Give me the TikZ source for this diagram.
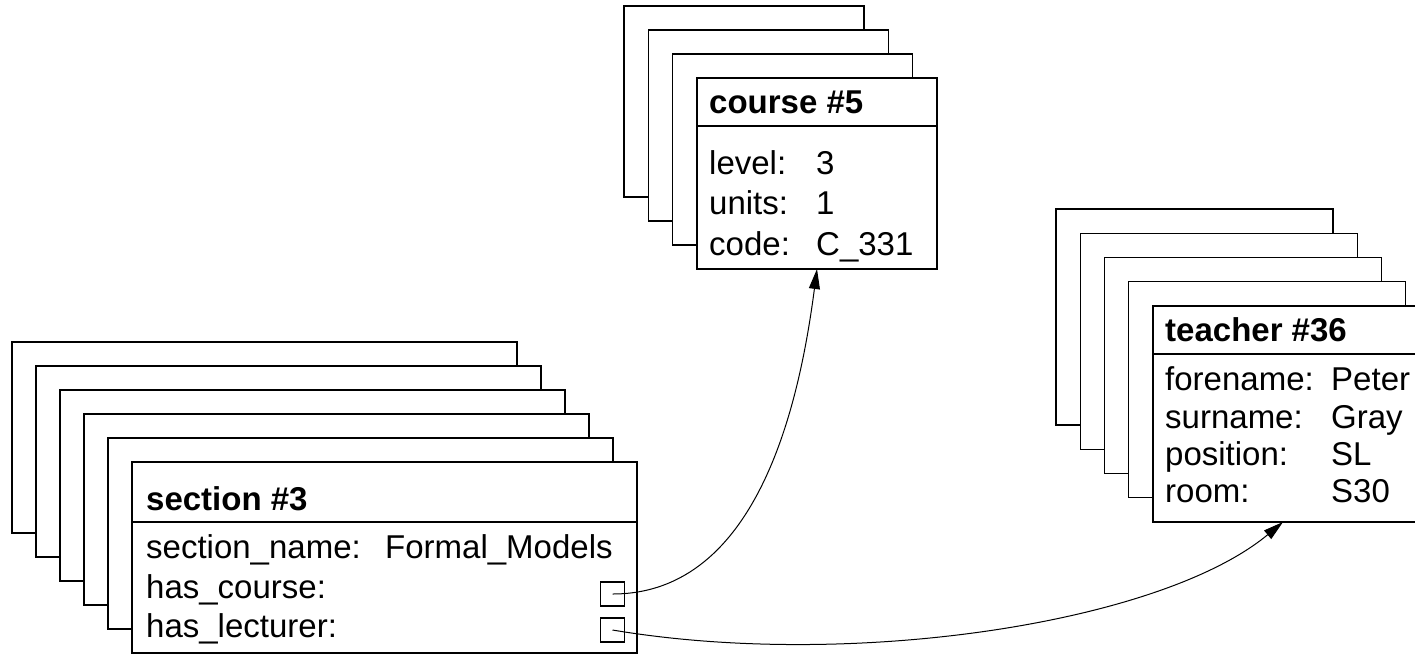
\documentclass[tikz,border=0pt]{standalone}
\usepackage{fontspec}
\setmainfont{Liberation Sans}
\usetikzlibrary{arrows.meta}
\begin{document}
\begin{tikzpicture}[x=1pt,y=-1pt,
  sheet/.style={draw=black, fill=white, line width=1.2pt},
  front/.style={sheet, anchor=north west, inner sep=0pt, outer sep=0pt},
  divider/.style={draw=black, line width=1.2pt},
  lbl/.style={anchor=base west, inner sep=0pt, font=\fontsize{33}{40}\selectfont},
  ttl/.style={anchor=base west, inner sep=0pt, font=\fontsize{33}{40}\selectfont\bfseries},
  ptr/.style={draw=black, line width=1.1pt, minimum size=24pt, inner sep=0pt},
  link/.style={draw=black, line width=1pt, -{Triangle[length=20pt,width=11pt]}}]
\clip (0,0) rectangle (1415,654);
\fill[white] (0,0) rectangle (1415,654);

% ---------- course stack ----------
\foreach \i in {0,1,2}
  \draw[sheet] ({624+24.33*\i},{6+24*\i}) rectangle +(240,191);
\node[front, minimum width=240pt, minimum height=191pt] (course) at (697,78) {};
\draw[divider] (course.west |- 0,126) -- (course.east |- 0,126);
\node[ttl] (ctitle) at (709,113) {course \#5};
\node[lbl] (cl1) at (709,174) {level:};
\node[lbl] (cv1) at (816,174) {3};
\node[lbl] (cl2) at (709,214) {units:};
\node[lbl] (cv2) at (816,214) {1};
\node[lbl] (cl3) at (709,255) {code:};
\node[lbl] (cv3) at (816,255) {C\_331};

% ---------- teacher stack ----------
\foreach \i in {0,1,2,3}
  \draw[sheet] ({1056+24.25*\i},{209+24.25*\i}) rectangle +(277,216);
\node[front, minimum width=277pt, minimum height=216pt] (teacher) at (1153,306) {};
\draw[divider] (teacher.west |- 0,354) -- (teacher.east |- 0,354);
\node[ttl] (ttitle) at (1165,341) {teacher \#36};
\node[lbl] (tl1) at (1165,390) {forename:};
\node[lbl] (tv1) at (1331,390) {Peter};
\node[lbl] (tl2) at (1165,428) {surname:};
\node[lbl] (tv2) at (1331,428) {Gray};
\node[lbl] (tl3) at (1165,465) {position:};
\node[lbl] (tv3) at (1331,465) {SL};
\node[lbl] (tl4) at (1165,502) {room:};
\node[lbl] (tv4) at (1331,502) {S30};

% ---------- section stack ----------
\foreach \i in {0,1,2,3,4}
  \draw[sheet] ({12+24*\i},{342+24*\i}) rectangle +(505,191);
\node[front, minimum width=505pt, minimum height=191pt] (section) at (132,462) {};
\draw[divider] (section.west |- 0,522) -- (section.east |- 0,522);
\node[ttl] (stitle) at (146,510) {section \#3};
\node[lbl] (sl1) at (146,558) {section\_name:};
\node[lbl] (sv1) at (385,558) {Formal\_Models};
\node[lbl] (sl2) at (146,598) {has\_course:};
\node[lbl] (sl3) at (146,637) {has\_lecturer:};
\node[ptr] (pc) at (612.5,594) {};
\node[ptr] (pl) at (612.5,630) {};

% ---------- connectors ----------
\coordinate (tin) at ([xshift=-8.5pt]teacher.south);
\draw[link] (pc.center) .. controls +(147,0) and +(-17,130) .. (course.south);
\draw[link] (pl.center) .. controls +(237,40) and +(-123,102) .. (tin);
\end{tikzpicture}
\end{document}
